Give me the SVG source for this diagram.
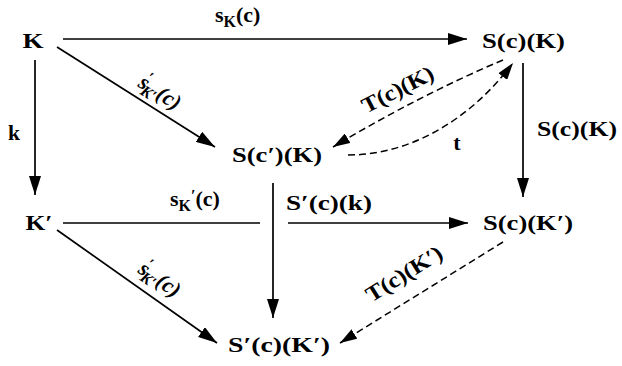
<svg xmlns="http://www.w3.org/2000/svg" width="622" height="366" viewBox="0 0 622 366">
<style>
text { font-family: "Liberation Serif", "Times New Roman", serif; font-size: 22px; font-weight: bold; fill: #000; }
.lbl { font-size: 22px; }
.sub { font-size: 16px; }
.it { font-style: italic; }
.edge { fill: none; stroke: #000; stroke-width: 1.7; }
.dash { stroke-dasharray: 7 4; stroke-width: 1.5; }
</style>
<defs>
<marker id="ah" markerUnits="userSpaceOnUse" markerWidth="19" markerHeight="12" refX="19" refY="6" orient="auto">
<path d="M0,0 L19,6 L0,12 z" fill="#000"/>
</marker>
<marker id="ahs" markerUnits="userSpaceOnUse" markerWidth="17" markerHeight="11" refX="17" refY="5.5" orient="auto">
<path d="M0,0 L17,5.5 L0,11 z" fill="#000"/>
</marker>
</defs>
<rect width="622" height="366" fill="#fff"/>
<g id="connectors">
<line class="edge" x1="63" y1="39" x2="467" y2="39" marker-end="url(#ah)"/>
<line class="edge" x1="57" y1="47" x2="215" y2="147" marker-end="url(#ah)"/>
<line class="edge" x1="35" y1="60" x2="35" y2="195" marker-end="url(#ah)"/>
<line class="edge" x1="523" y1="63" x2="523" y2="197" marker-end="url(#ah)"/>
<path class="edge dash" d="M503,60 Q420,95 333,147" marker-end="url(#ahs)"/>
<path class="edge dash" d="M348,155 C410,155 470,120 513,63" marker-end="url(#ahs)"/>
<path class="edge" d="M63,223 H260 M288,223 H468" marker-end="url(#ah)"/>
<line class="edge" x1="273" y1="183" x2="273" y2="318" marker-end="url(#ah)"/>
<line class="edge" x1="57" y1="230" x2="217" y2="343" marker-end="url(#ah)"/>
<line class="edge dash" x1="503" y1="242" x2="340" y2="343" marker-end="url(#ahs)"/>
<!-- labels -->
<text class="lbl" x="215" y="22">s<tspan class="sub" dy="5">K</tspan><tspan dy="-5">(c)</tspan></text>
<text class="lbl it" transform="translate(137,86) rotate(33)">s<tspan class="sub" dx="-5" dy="-9">′</tspan><tspan class="sub" dx="-2" dy="14">K′</tspan><tspan dy="-5">(c)</tspan></text>
<text class="lbl" x="14" y="140" text-anchor="middle" textLength="12" lengthAdjust="spacingAndGlyphs">k</text>
<text class="lbl" x="537" y="136" textLength="80" lengthAdjust="spacingAndGlyphs">S(c)(K)</text>
<text class="lbl" transform="translate(401,96) rotate(-27)" text-anchor="middle" textLength="78" lengthAdjust="spacingAndGlyphs">T(c)(K)</text>
<text class="lbl" x="457" y="150" text-anchor="middle">t</text>
<text class="lbl" x="170" y="206">s<tspan class="sub" dy="5">K</tspan><tspan class="sub" dy="-10">′</tspan><tspan dy="5">(c)</tspan></text>
<text class="lbl" x="286" y="210" textLength="86" lengthAdjust="spacingAndGlyphs">S′(c)(k)</text>
<text class="lbl it" transform="translate(137,272) rotate(35)">s<tspan class="sub" dx="-5" dy="-9">′</tspan><tspan class="sub" dx="-2" dy="14">K′</tspan><tspan dy="-5">(c)</tspan></text>
<text class="lbl" transform="translate(408,280) rotate(-32)" text-anchor="middle" textLength="86" lengthAdjust="spacingAndGlyphs">T(c)(K′)</text>
</g>
<g id="node-K"><text x="33" y="48" text-anchor="middle" textLength="21" lengthAdjust="spacingAndGlyphs">K</text></g>
<g id="node-ScK"><text x="523.5" y="48" text-anchor="middle" textLength="83" lengthAdjust="spacingAndGlyphs">S(c)(K)</text></g>
<g id="node-Sc1K"><text x="277" y="162" text-anchor="middle" textLength="90" lengthAdjust="spacingAndGlyphs">S(c′)(K)</text></g>
<g id="node-K1"><text x="39" y="230" text-anchor="middle" textLength="27" lengthAdjust="spacingAndGlyphs">K′</text></g>
<g id="node-ScK1"><text x="528" y="230" text-anchor="middle" textLength="90" lengthAdjust="spacingAndGlyphs">S(c)(K′)</text></g>
<g id="node-S1cK1"><text x="279" y="352" text-anchor="middle" textLength="102" lengthAdjust="spacingAndGlyphs">S′(c)(K′)</text></g>
</svg>
